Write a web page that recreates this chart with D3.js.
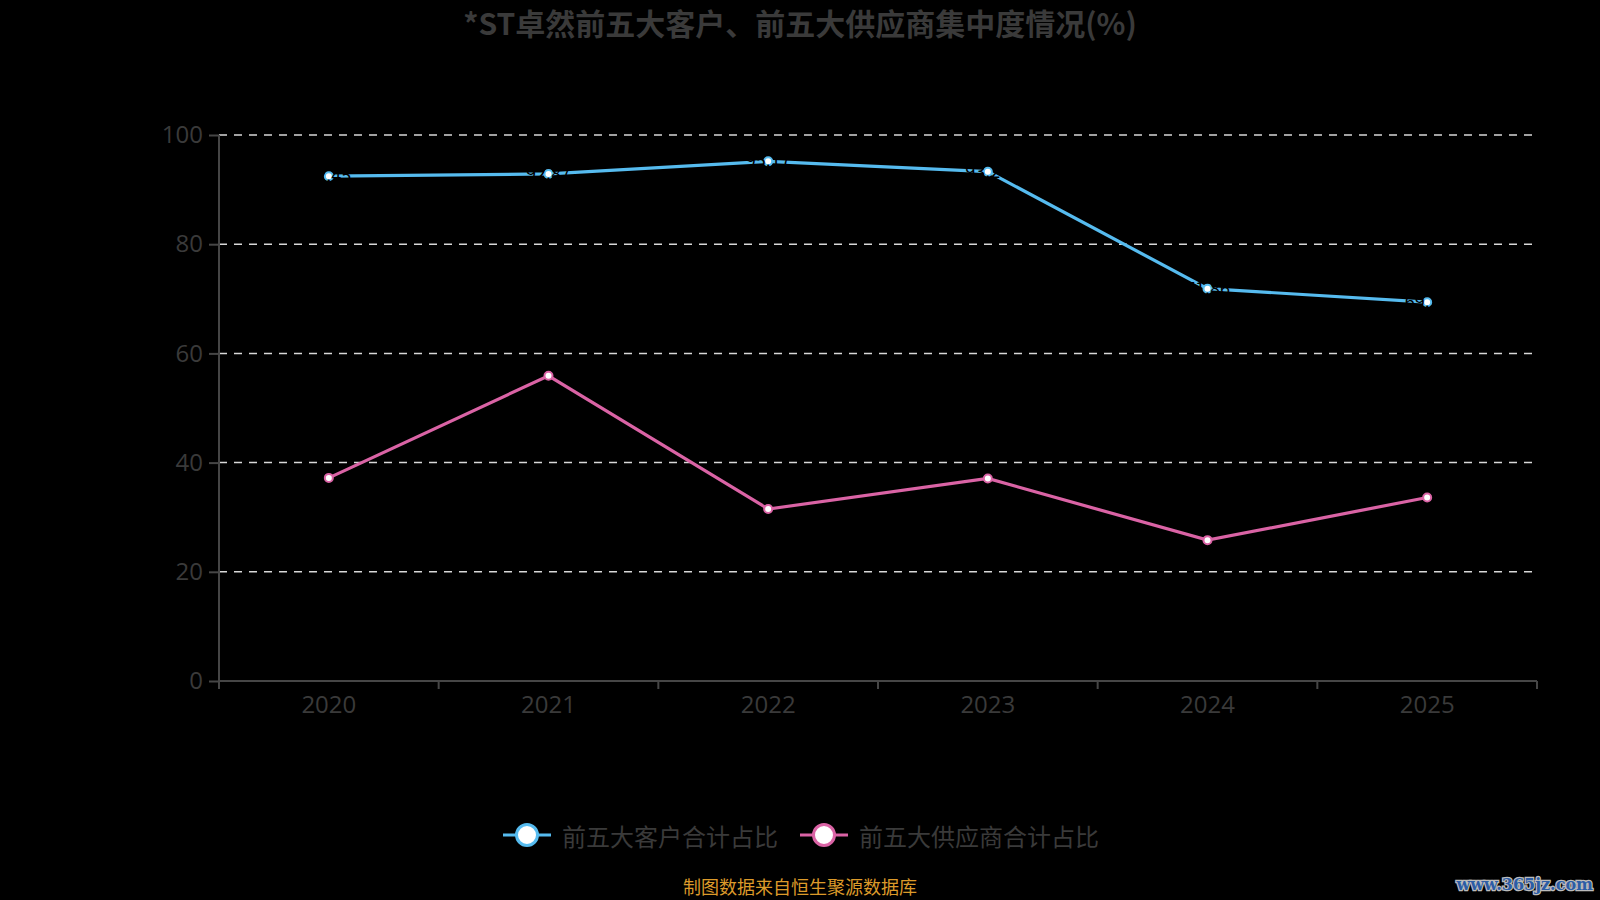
<!DOCTYPE html>
<html>
<head>
<meta charset="utf-8">
<script src="https://d3js.org/d3.v7.min.js"></script>
<style>
  html, body { margin: 0; padding: 0; background: #000; }
  svg { display: block; font-family: "Noto Sans CJK SC", "Noto Sans", sans-serif; }
  .grid line { stroke: #d8d8d8; stroke-width: 1.5; stroke-dasharray: 8,7; }
  .axis path, .axis line { stroke: #464646; stroke-width: 2; }
  .axis text { fill: #3a3a3a; font-size: 24px; font-family: "Open Sans", sans-serif; }
</style>
</head>
<body>
<svg id="chart" width="1600" height="900"></svg>
<script>
  const years = ["2020", "2021", "2022", "2023", "2024", "2025"]
  const customerShare = [92.45, 92.87, 95.17, 93.28, 71.86, 69.38]
  const supplierShare = [37.2, 55.9, 31.5, 37.1, 25.8, 33.6]
  const yTicks = [0, 20, 40, 60, 80, 100]
  const seriesNames = ["前五大客户合计占比", "前五大供应商合计占比"]
  const seriesColors = ["#56bbef", "#da63a5"]

  const svg = d3.select("#chart")
  const margin = {top: 135, right: 63, bottom: 219, left: 219}
  const width = svg.attr("width") - margin.left - margin.right
  const height = svg.attr("height") - margin.top - margin.bottom

  const x = d3.scaleBand().domain(years).range([0, width])
  const y = d3.scaleLinear().domain([0, 100]).range([height, 0])
  const cx = d => x(d) + x.bandwidth() / 2

  svg.append("text")
    .attr("x", 800).attr("y", 22)
    .attr("text-anchor", "middle").attr("dominant-baseline", "central")
    .attr("font-size", 30).attr("font-weight", "bold").attr("fill", "#3a3a3a")
    .text("*ST卓然前五大客户、前五大供应商集中度情况(%)")

  const g = svg.append("g").attr("transform", "translate(" + margin.left + "," + margin.top + ")")

  // dashed grid
  g.append("g").attr("class", "grid")
    .selectAll("line").data(yTicks.filter(t => t > 0)).join("line")
    .attr("x1", 0).attr("x2", width)
    .attr("y1", d => y(d)).attr("y2", d => y(d))

  // axes
  const yAxis = g.append("g").attr("class", "axis")
    .call(d3.axisLeft(y).tickValues(yTicks).tickSize(10).tickPadding(6))
  yAxis.select(".domain").attr("d", "M0," + height + "V0")

  const xAxis = g.append("g").attr("class", "axis")
    .attr("transform", "translate(0," + height + ")")
    .call(d3.axisBottom(x).tickSize(0).tickPadding(15))
  xAxis.select(".domain").attr("d", "M0,0H" + width)
  xAxis.selectAll(".tick text").attr("dy", "0.71em")
  // band boundary ticks
  xAxis.selectAll(".bound").data(years.concat(["end"])).join("line")
    .attr("class", "bound")
    .attr("x1", (d, i) => i * x.step()).attr("x2", (d, i) => i * x.step())
    .attr("y1", 0).attr("y2", 8)

  const line = d3.line().x((d, i) => cx(years[i])).y(d => y(d))
  const series = [customerShare, supplierShare]

  series.forEach((vals, k) => {
    g.append("path").datum(vals)
      .attr("fill", "none").attr("stroke", seriesColors[k]).attr("stroke-width", 3.2)
      .attr("d", line)
    g.append("g").selectAll("circle").data(vals).join("circle")
      .attr("cx", (d, i) => cx(years[i])).attr("cy", d => y(d))
      .attr("r", 4).attr("fill", "#fff")
      .attr("stroke", seriesColors[k]).attr("stroke-width", 2)
  })

  // value labels (black, only visible where they cross the line)
  g.append("g").selectAll("text").data(customerShare).join("text")
    .attr("x", (d, i) => cx(years[i])).attr("y", d => y(d) - 2)
    .attr("text-anchor", "middle").attr("dominant-baseline", "central")
    .attr("font-size", 18).attr("fill", "#000")
    .text(d => d.toFixed(2))

  // legend
  const legendX = [503, 800]
  const legend = svg.append("g").attr("transform", "translate(0,835)")
  seriesNames.forEach((name, k) => {
    const lg = legend.append("g").attr("transform", "translate(" + legendX[k] + ",0)")
    lg.append("line").attr("x1", 0).attr("x2", 48).attr("y1", 0).attr("y2", 0)
      .attr("stroke", seriesColors[k]).attr("stroke-width", 3)
    lg.append("circle").attr("cx", 24).attr("cy", 0).attr("r", 10.5)
      .attr("fill", "#fff").attr("stroke", seriesColors[k]).attr("stroke-width", 3)
    lg.append("text").attr("x", 59).attr("y", 0)
      .attr("dominant-baseline", "central").attr("font-size", 24).attr("fill", "#3a3a3a")
      .text(name)
  })

  svg.append("text")
    .attr("x", 800).attr("y", 886)
    .attr("text-anchor", "middle").attr("dominant-baseline", "central")
    .attr("font-size", 18).attr("fill", "#dc9a2a")
    .text("制图数据来自恒生聚源数据库")

  svg.append("text")
    .attr("x", 1593).attr("y", 884)
    .attr("text-anchor", "end").attr("dominant-baseline", "central")
    .attr("font-family", "DejaVu Serif").attr("font-weight", "bold").attr("font-size", 16)
    .attr("fill", "#2c5da6").attr("stroke", "#bbb").attr("stroke-width", 2.5)
    .attr("paint-order", "stroke")
    .text("www.365jz.com")
</script>
</body>
</html>
